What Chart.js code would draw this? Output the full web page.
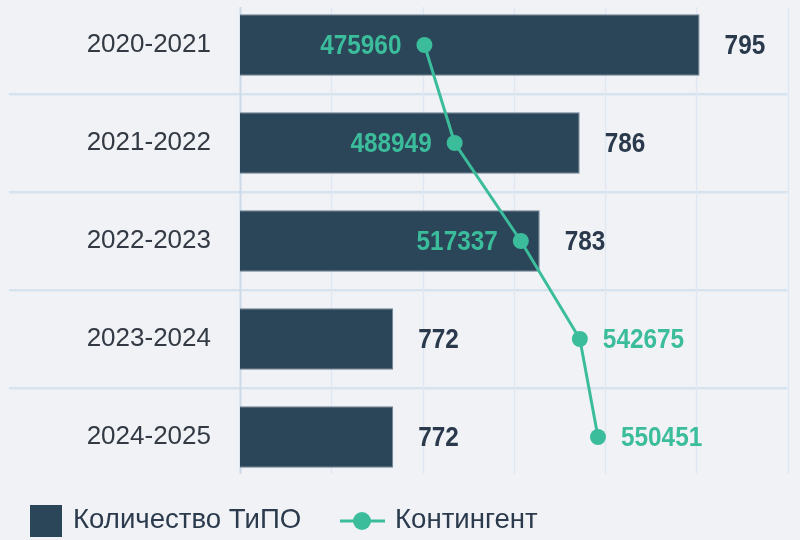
<!DOCTYPE html>
<html>
<head>
<meta charset="utf-8">
<script src="https://cdn.jsdelivr.net/npm/chart.js@4.4.1/dist/chart.umd.min.js"></script>
<style>
  html, body { margin: 0; padding: 0; background: #f0f2f6; overflow: hidden; }
  #wrap { position: relative; width: 800px; height: 552px; margin-top: -12px; }
</style>
</head>
<body>
<div id="wrap"><canvas id="chart"></canvas></div>
<script>
// данные
const years = ['2020-2021', '2021-2022', '2022-2023', '2023-2024', '2024-2025'];
const tipoCount = [795, 786, 783, 772, 772];
const contingent = [475960, 488949, 517337, 542675, 550451];
const seriesNames = ['Количество ТиПО', 'Контингент'];

const BAR_COLOR = '#2b4559';
const LINE_COLOR = '#3bbd9c';
const LABEL_FONT = "bold 28px 'Liberation Sans', Arial, sans-serif";
const TEXT_FONT = "'Liberation Sans', Arial, sans-serif";
const SHIFT = 12; // canvas сдвинут вверх

// узкий жирный текст (в оригинале condensed шрифт)
function narrowText(ctx, text, x, y, align) {
  ctx.save();
  ctx.translate(x, y);
  ctx.scale(0.87, 1);
  ctx.textAlign = align;
  ctx.fillText(text, 0, 0);
  ctx.restore();
}

// подписи значений у столбцов и точек
const valueLabels = {
  id: 'valueLabels',
  afterDatasetsDraw(chart) {
    const ctx = chart.ctx;
    const barMeta = chart.getDatasetMeta(0);
    const lineMeta = chart.getDatasetMeta(1);
    ctx.save();
    ctx.font = LABEL_FONT;
    ctx.textBaseline = 'middle';

    barMeta.data.forEach((bar, i) => {
      ctx.fillStyle = '#2a3a4c';
      narrowText(ctx, String(tipoCount[i]), bar.x + 25, bar.y + 1, 'left');
    });

    lineMeta.data.forEach((pt, i) => {
      const barEnd = barMeta.data[i].x;
      ctx.fillStyle = LINE_COLOR;
      if (pt.x < barEnd) {
        narrowText(ctx, String(contingent[i]), pt.x - 23, pt.y + 1, 'right');
      } else {
        narrowText(ctx, String(contingent[i]), pt.x + 23, pt.y + 1, 'left');
      }
    });
    ctx.restore();
  }
};

// вертикальная сетка (короче области графика)
const splitLines = {
  id: 'splitLines',
  beforeDatasetsDraw(chart) {
    const ctx = chart.ctx;
    const sc = chart.scales.x;
    const area = chart.chartArea;
    ctx.save();
    sc.ticks.forEach((t, i) => {
      const x = Math.round(sc.getPixelForValue(t.value)) + 0.5;
      ctx.beginPath();
      ctx.lineWidth = i === 0 ? 2 : 1.3;
      ctx.strokeStyle = i === 0 ? '#cbd9e8' : '#dfe8f2';
      ctx.moveTo(x, area.top + 11);
      ctx.lineTo(x, area.bottom - 12);
      ctx.stroke();
    });
    ctx.restore();
  }
};

// легенда снизу
const bottomLegend = {
  id: 'bottomLegend',
  afterDraw(chart) {
    const ctx = chart.ctx;
    const y = 521 + SHIFT;
    ctx.save();
    ctx.fillStyle = BAR_COLOR;
    ctx.fillRect(30, y - 16, 32, 32);

    ctx.strokeStyle = LINE_COLOR;
    ctx.lineWidth = 3;
    ctx.beginPath();
    ctx.moveTo(340, y);
    ctx.lineTo(385, y);
    ctx.stroke();
    ctx.fillStyle = LINE_COLOR;
    ctx.beginPath();
    ctx.arc(362, y, 9, 0, Math.PI * 2);
    ctx.fill();

    ctx.font = '27.6px ' + TEXT_FONT;
    ctx.fillStyle = '#2b3a4c';
    ctx.textAlign = 'left';
    ctx.textBaseline = 'middle';
    ctx.fillText(seriesNames[0], 73, y - 1);
    ctx.fillText(seriesNames[1], 395, y - 1);
    ctx.restore();
  }
};

new Chart(document.getElementById('chart'), {
  data: {
    labels: years,
    datasets: [
      {
        type: 'bar',
        label: seriesNames[0],
        data: tipoCount,
        indexAxis: 'y',
        xAxisID: 'x',
        backgroundColor: BAR_COLOR,
        borderColor: '#6d8093',
        borderWidth: 1,
        borderSkipped: false,
        barPercentage: 0.63,
        categoryPercentage: 1,
        order: 1
      },
      {
        type: 'line',
        label: seriesNames[1],
        data: contingent,
        indexAxis: 'y',
        xAxisID: 'x2',
        borderColor: LINE_COLOR,
        backgroundColor: LINE_COLOR,
        borderWidth: 3,
        pointRadius: 8,
        pointBorderWidth: 0,
        tension: 0,
        order: 0
      }
    ]
  },
  options: {
    indexAxis: 'y',
    responsive: true,
    maintainAspectRatio: false,
    animation: false,
    layout: { padding: { top: 0, right: 12.5, bottom: 46, left: 0 } },
    scales: {
      x: {
        type: 'linear',
        position: 'bottom',
        min: 760.5,
        max: 801.6,
        ticks: { display: false, count: 7 },
        grid: { display: false },
        border: { display: false }
      },
      x2: {
        type: 'linear',
        display: false,
        min: 396800,
        max: 631800
      },
      y: {
        type: 'category',
        offset: true,
        grid: {
          offset: true,
          drawTicks: true,
          tickLength: 231,
          lineWidth: 2.5,
          color: c => c.type === 'tick' ? '#d6e3ef' : 'rgba(0,0,0,0)'
        },
        border: { display: false },
        ticks: {
          padding: -202,
          color: '#333a44',
          font: { family: TEXT_FONT, size: 26 }
        },
        afterFit: s => { s.width = 240; }
      }
    },
    plugins: {
      legend: { display: false },
      tooltip: { enabled: false }
    }
  },
  plugins: [splitLines, valueLabels, bottomLegend]
});
</script>
</body>
</html>
